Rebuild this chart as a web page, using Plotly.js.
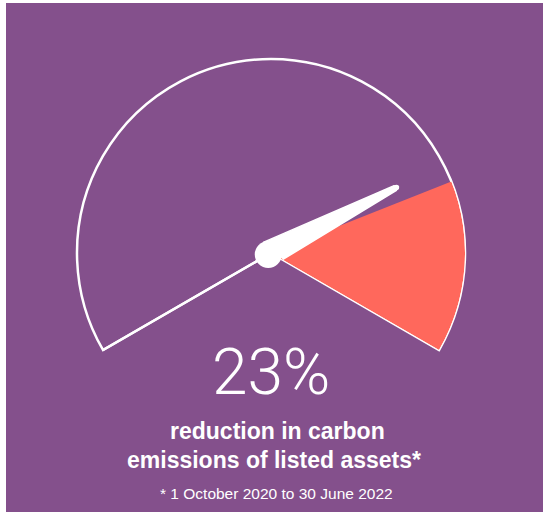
<!DOCTYPE html>
<html>
<head>
<meta charset="utf-8">
<script src="https://cdn.plot.ly/plotly-3.0.1.min.js"></script>
<style>html,body{margin:0;padding:0;background:#fff;}#chart{width:543px;height:512px;}</style>
</head>
<body>
<div id="chart"></div>
<script>
// ---- data ----
const gaugeRange = [0, 100];          // gauge scale (percent)
const needleValue = [76];             // needle position on the gauge
const bandRange = [78.5, 100];        // highlighted (coral) band on the gauge
const headline = ["23%"];
const captionLines = ["reduction in carbon", "emissions of listed assets*"];
const footnote = ["* 1 October 2020 to 30 June 2022"];

// ---- styling / geometry ----
const PURPLE = "#84508c";
const CORAL = "#ff685c";
const SWEEP = 240;     // degrees covered by gauge
const START = 210;     // screen angle of gauge minimum
const degPerUnit = SWEEP / (gaugeRange[1] - gaugeRange[0]);
const toTheta = v => (v - gaugeRange[0]) * degPerUnit;

const L = 77, R = 465, T = 59, B = 350, W = 543, H = 512;
const RPX = (R - L) / 2;   // gauge radius in px
const px = x => (x - L) / (R - L);
const py = y => (B - y) / (B - T);

const nT = toTheta(needleValue[0]);
// needle outline in needle-local units (d along needle, w across; px-sized style constants)
const needleShape = [[-2, -13], [140, -2.6], [143.5, 0], [140, 2.6], [7.6, 11.2]];
const toPolar = ([d, w]) => [Math.hypot(d, w) / RPX, nT + Math.atan2(w, d) * 180 / Math.PI];
const needlePts = needleShape.map(toPolar);

const needle = {
  type: "scatterpolar", mode: "lines", fill: "toself",
  r: needlePts.map(p => p[0]), theta: needlePts.map(p => p[1]),
  fillcolor: "#ffffff", line: {color: "#ffffff", width: 1.5},
  hoverinfo: "skip", showlegend: false
};
const hub = {
  type: "scatterpolar", mode: "markers",
  r: [0.016], theta: [nT + 180],
  marker: {color: "#ffffff", size: 27},
  hoverinfo: "skip", showlegend: false
};
const tip = {
  type: "scatterpolar", mode: "markers",
  r: [141.5 / RPX], theta: [nT],
  marker: {color: "#ffffff", size: 5.5},
  hoverinfo: "skip", showlegend: false
};
const band = {
  type: "barpolar",
  r: [1], base: [0],
  theta: [toTheta((bandRange[0] + bandRange[1]) / 2)],
  width: [toTheta(bandRange[1]) - toTheta(bandRange[0])],
  marker: {color: CORAL, line: {width: 0, color: CORAL}},
  hoverinfo: "skip", showlegend: false
};

const ann = (text, x, y, size, family, weight) => ({
  text, xref: "paper", yref: "paper", x: px(x), y: py(y),
  xanchor: "center", yanchor: "middle", showarrow: false,
  font: {color: "#ffffff", size, family, weight}
});

const layout = {
  width: W, height: H,
  margin: {l: L, r: W - R, t: T, b: H - B, pad: 0},
  paper_bgcolor: "#ffffff",
  showlegend: false,
  polar: {
    sector: [START - SWEEP, START],
    bgcolor: "rgba(0,0,0,0)",
    radialaxis: {
      range: [0, 1], angle: START, showline: true, linecolor: "#ffffff", linewidth: 2.5,
      showgrid: false, showticklabels: false, ticks: "", layer: "below traces"
    },
    angularaxis: {
      rotation: START, direction: "clockwise", thetaunit: "degrees",
      showline: true, linecolor: "#ffffff", linewidth: 2.5,
      showgrid: false, showticklabels: false, ticks: "", layer: "below traces"
    }
  },
  shapes: [{
    type: "rect", xref: "paper", yref: "paper", layer: "below",
    x0: px(6), x1: px(W + 2), y0: py(3), y1: py(H + 2),
    fillcolor: PURPLE, line: {width: 0}
  }],
  annotations: [
    ann(headline[0], 271, 372, 64, "Roboto, 'Liberation Sans', sans-serif", 300),
    ann(captionLines[0], 277, 431, 23, "'Liberation Sans', Arial, sans-serif", 700),
    ann(captionLines[1], 274, 460, 23, "'Liberation Sans', Arial, sans-serif", 700),
    ann(footnote[0], 276, 493, 15.5, "'Liberation Sans', Arial, sans-serif", 400)
  ]
};

Plotly.newPlot("chart", [band, needle, hub, tip], layout, {staticPlot: true, displayModeBar: false});
</script>
</body>
</html>
